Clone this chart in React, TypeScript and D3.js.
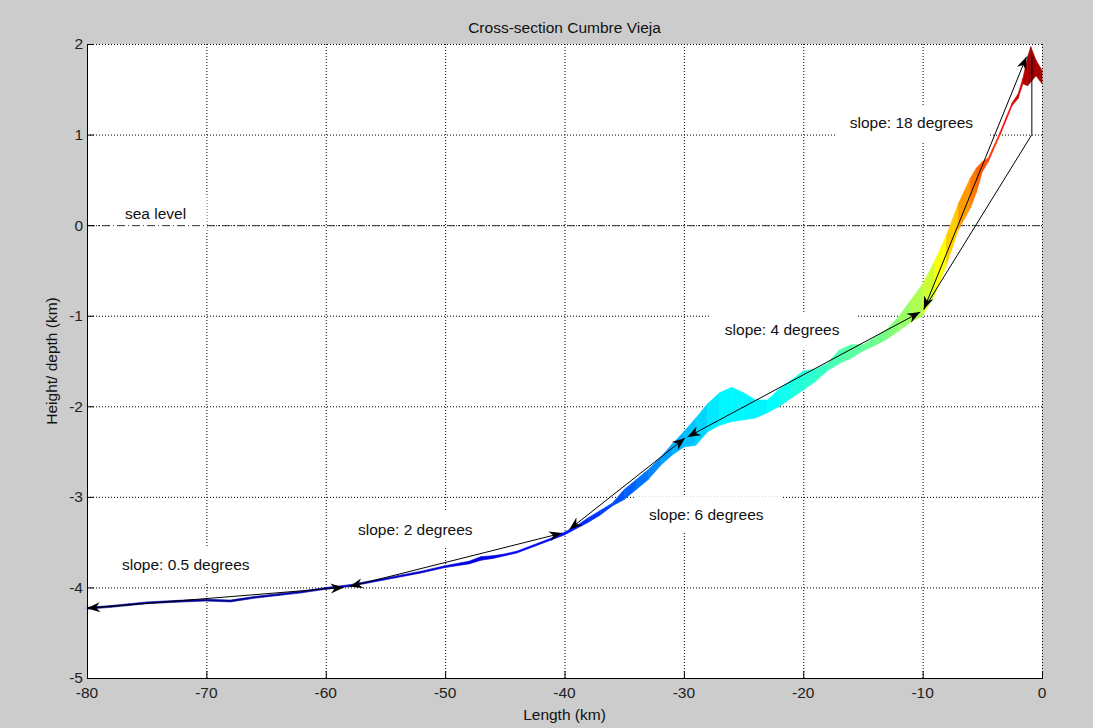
import React from "react";
import * as d3 from "d3";

// axes
const xTicks = [-80, -70, -60, -50, -40, -30, -20, -10, 0];
const yTicks = [-5, -4, -3, -2, -1, 0, 1, 2];

// cross-section band (km): along-profile distance, upper and lower edge
const bandX = [-80, -78, -75, -72, -70, -68, -66, -64, -62, -60, -58, -56, -54, -52, -50, -48, -47, -46, -45, -44, -42, -41, -40, -39, -38, -37, -36, -35, -34, -33, -32, -31, -30, -29, -28, -27, -26, -25, -24, -23, -22, -21, -20, -19, -18, -17, -16, -15, -14, -13, -12, -11, -10, -9, -8, -7, -6, -5.5, -5, -4.5, -3.5, -2.5, -2, -1.6, -1.2, -0.94, -0.5, 0];
const bandTop = [-4.22, -4.2, -4.16, -4.14, -4.13, -4.14, -4.1, -4.07, -4.04, -4.0, -3.97, -3.92, -3.87, -3.82, -3.76, -3.71, -3.66, -3.65, -3.63, -3.6, -3.5, -3.45, -3.39, -3.32, -3.23, -3.15, -3.07, -2.92, -2.81, -2.7, -2.57, -2.42, -2.28, -2.13, -1.97, -1.85, -1.79, -1.85, -1.93, -1.93, -1.81, -1.71, -1.61, -1.59, -1.53, -1.38, -1.32, -1.32, -1.24, -1.15, -1.01, -0.83, -0.65, -0.4, -0.11, 0.24, 0.52, 0.63, 0.7, 0.74, 1.03, 1.35, 1.45, 1.62, 1.86, 1.97, 1.82, 1.71];
const bandBottom = [-4.24, -4.22, -4.18, -4.16, -4.15, -4.16, -4.12, -4.09, -4.06, -4.02, -3.99, -3.94, -3.89, -3.84, -3.78, -3.74, -3.7, -3.68, -3.65, -3.62, -3.52, -3.47, -3.42, -3.35, -3.28, -3.2, -3.1, -3.03, -2.92, -2.81, -2.66, -2.54, -2.45, -2.43, -2.28, -2.21, -2.17, -2.15, -2.13, -2.07, -2.0, -1.91, -1.82, -1.73, -1.61, -1.53, -1.47, -1.39, -1.33, -1.26, -1.17, -1.07, -1.0, -0.77, -0.44, -0.05, 0.19, 0.36, 0.59, 0.7, 1.0, 1.32, 1.4, 1.56, 1.54, 1.58, 1.65, 1.56];

// slope arrows (km): start x, start y, end x, end y
const arrowX1 = [-80, -58.0, -39.6, -29.7, -9.9];
const arrowY1 = [-4.23, -3.99, -3.36, -2.34, -0.93];
const arrowX2 = [-58.5, -40.2, -29.9, -10.2, -1.3];
const arrowY2 = [-4.0, -3.4, -2.35, -0.96, 1.86];

// slope triangle for the steep part
const triX = [-0.85, -0.85, -9.9];
const triY = [1.86, 1.0, -0.93];

// labels
const labelText = ["slope: 18 degrees", "slope: 4 degrees", "slope: 6 degrees", "slope: 2 degrees", "slope: 0.5 degrees", "sea level"];
const labelX = [-16.1, -26.57, -32.93, -57.3, -77.07, -76.82];
const labelY = [1.128, -1.157, -3.199, -3.364, -3.75, 0.124];

const W = 1093;
const H = 728;
const FONT = "'Liberation Sans', Arial, Helvetica, sans-serif";
const FS = 15.5;

// jet colormap
function jet(t: number) {
  const c = (v: number) => Math.round(255 * Math.max(0, Math.min(1, v)));
  const r = c(1.5 - Math.abs(4 * t - 3));
  const g = c(1.5 - Math.abs(4 * t - 2));
  const b = c(1.5 - Math.abs(4 * t - 1));
  return `rgb(${r},${g},${b})`;
}

function arrowHead(tx: number, ty: number, fx: number, fy: number) {
  const dx = tx - fx;
  const dy = ty - fy;
  const len = Math.hypot(dx, dy) || 1;
  const ux = dx / len;
  const uy = dy / len;
  const nx = -uy;
  const ny = ux;
  const L = 13;
  const hw = 5;
  const notch = 9;
  return `M${tx},${ty}L${tx - L * ux + hw * nx},${ty - L * uy + hw * ny}L${tx - notch * ux},${ty - notch * uy}L${tx - L * ux - hw * nx},${ty - L * uy - hw * ny}Z`;
}

export default function App() {
  const x = d3.scaleLinear().domain([-80, 0]).range([87, 1042]);
  const y = d3.scaleLinear().domain([-5, 2]).range([678, 44]);
  const color = d3.scaleLinear().domain([-4.3, 1.95]).range([0, 1]).clamp(true);

  const quads = bandX.slice(1).map((_, j) => {
    const i = j;
    const k = j + 1;
    const d = `M${x(bandX[i])},${y(bandTop[i])}L${x(bandX[k])},${y(bandTop[k])}L${x(bandX[k])},${y(bandBottom[k])}L${x(bandX[i])},${y(bandBottom[i])}Z`;
    const mid = (bandTop[i] + bandTop[k] + bandBottom[i] + bandBottom[k]) / 4;
    return { d, fill: jet(color(mid)) };
  });

  const [x0, x1] = x.range();
  const [yb, yt] = y.range();

  return (
    <svg width={W} height={H} style={{ position: "absolute", left: 0, top: 0 }} fontFamily={FONT}>
      <rect width={W} height={H} fill="#cccccc" />
      <rect x={x0} y={yt} width={x1 - x0} height={yb - yt} fill="#ffffff" />

      {/* grid */}
      <g stroke="#000" strokeWidth={1} strokeDasharray="1 2">
        {xTicks.slice(1).map((t) => (
          <line key={"gx" + t} x1={x(t) + 0.5} x2={x(t) + 0.5} y1={yt} y2={yb} />
        ))}
        {yTicks.slice(1).map((t) => (
          <line key={"gy" + t} x1={x0} x2={x1} y1={y(t) + 0.5} y2={y(t) + 0.5} />
        ))}
      </g>

      {/* label backgrounds */}
      {labelText.map((s, i) => (
        <rect
          key={"bg" + i}
          x={x(labelX[i]) - 14}
          y={y(labelY[i]) - 18}
          width={s.length * 7.3 + 30}
          height={36}
          fill="#ffffff"
        />
      ))}

      {/* sea level */}
      <line x1={x0} x2={x1} y1={y(0) + 0.5} y2={y(0) + 0.5} stroke="#333" strokeWidth={1} strokeDasharray="8 3 1 3" />

      {/* band */}
      {quads.map((q, i) => (
        <path key={"q" + i} d={q.d} fill={q.fill} stroke={q.fill} strokeWidth={0.6} />
      ))}

      {/* slope triangle */}
      <path
        d={d3.line<number>().x((_, i) => x(triX[i])).y((_, i) => y(triY[i]))(triX) || ""}
        fill="none"
        stroke="#000"
        strokeWidth={1}
      />

      {/* arrows */}
      {arrowX1.map((_, i) => {
        const ax = x(arrowX1[i]);
        const ay = y(arrowY1[i]);
        const bx = x(arrowX2[i]);
        const by = y(arrowY2[i]);
        return (
          <g key={"ar" + i}>
            <line x1={ax} y1={ay} x2={bx} y2={by} stroke="#000" strokeWidth={1} />
            <path d={arrowHead(ax, ay, bx, by)} fill="#000" />
            <path d={arrowHead(bx, by, ax, ay)} fill="#000" />
          </g>
        );
      })}

      {/* labels */}
      {labelText.map((s, i) => (
        <text key={"lb" + i} x={x(labelX[i])} y={y(labelY[i])} dy="0.35em" fontSize={FS} fill="#111">
          {s}
        </text>
      ))}

      {/* axes */}
      <line x1={x0 + 0.5} x2={x0 + 0.5} y1={yt} y2={yb} stroke="#000" />
      <line x1={x0} x2={x1 + 1} y1={yb + 0.5} y2={yb + 0.5} stroke="#000" />
      {yTicks.map((t) => (
        <g key={"ty" + t}>
          <line x1={x0} x2={x0 + 7} y1={y(t) + 0.5} y2={y(t) + 0.5} stroke="#000" />
          <text x={x0 - 4} y={y(t)} dy="0.35em" textAnchor="end" fontSize={FS} fill="#222">
            {t}
          </text>
        </g>
      ))}
      {xTicks.map((t) => (
        <g key={"tx" + t}>
          <line x1={x(t) + 0.5} x2={x(t) + 0.5} y1={yb} y2={yb - 7} stroke="#000" />
          <text x={x(t)} y={yb + 15} dy="0.35em" textAnchor="middle" fontSize={FS} fill="#222">
            {t}
          </text>
        </g>
      ))}

      {/* titles */}
      <text x={(x0 + x1) / 2} y={28} dy="0.35em" textAnchor="middle" fontSize={FS} fill="#111">
        Cross-section Cumbre Vieja
      </text>
      <text x={(x0 + x1) / 2} y={715} dy="0.35em" textAnchor="middle" fontSize={FS} fill="#111">
        Length (km)
      </text>
      <text
        transform={`translate(52,${(yt + yb) / 2}) rotate(-90)`}
        textAnchor="middle"
        dy="0.35em"
        fontSize={FS}
        fill="#111"
      >
        Height/ depth (km)
      </text>
    </svg>
  );
}
